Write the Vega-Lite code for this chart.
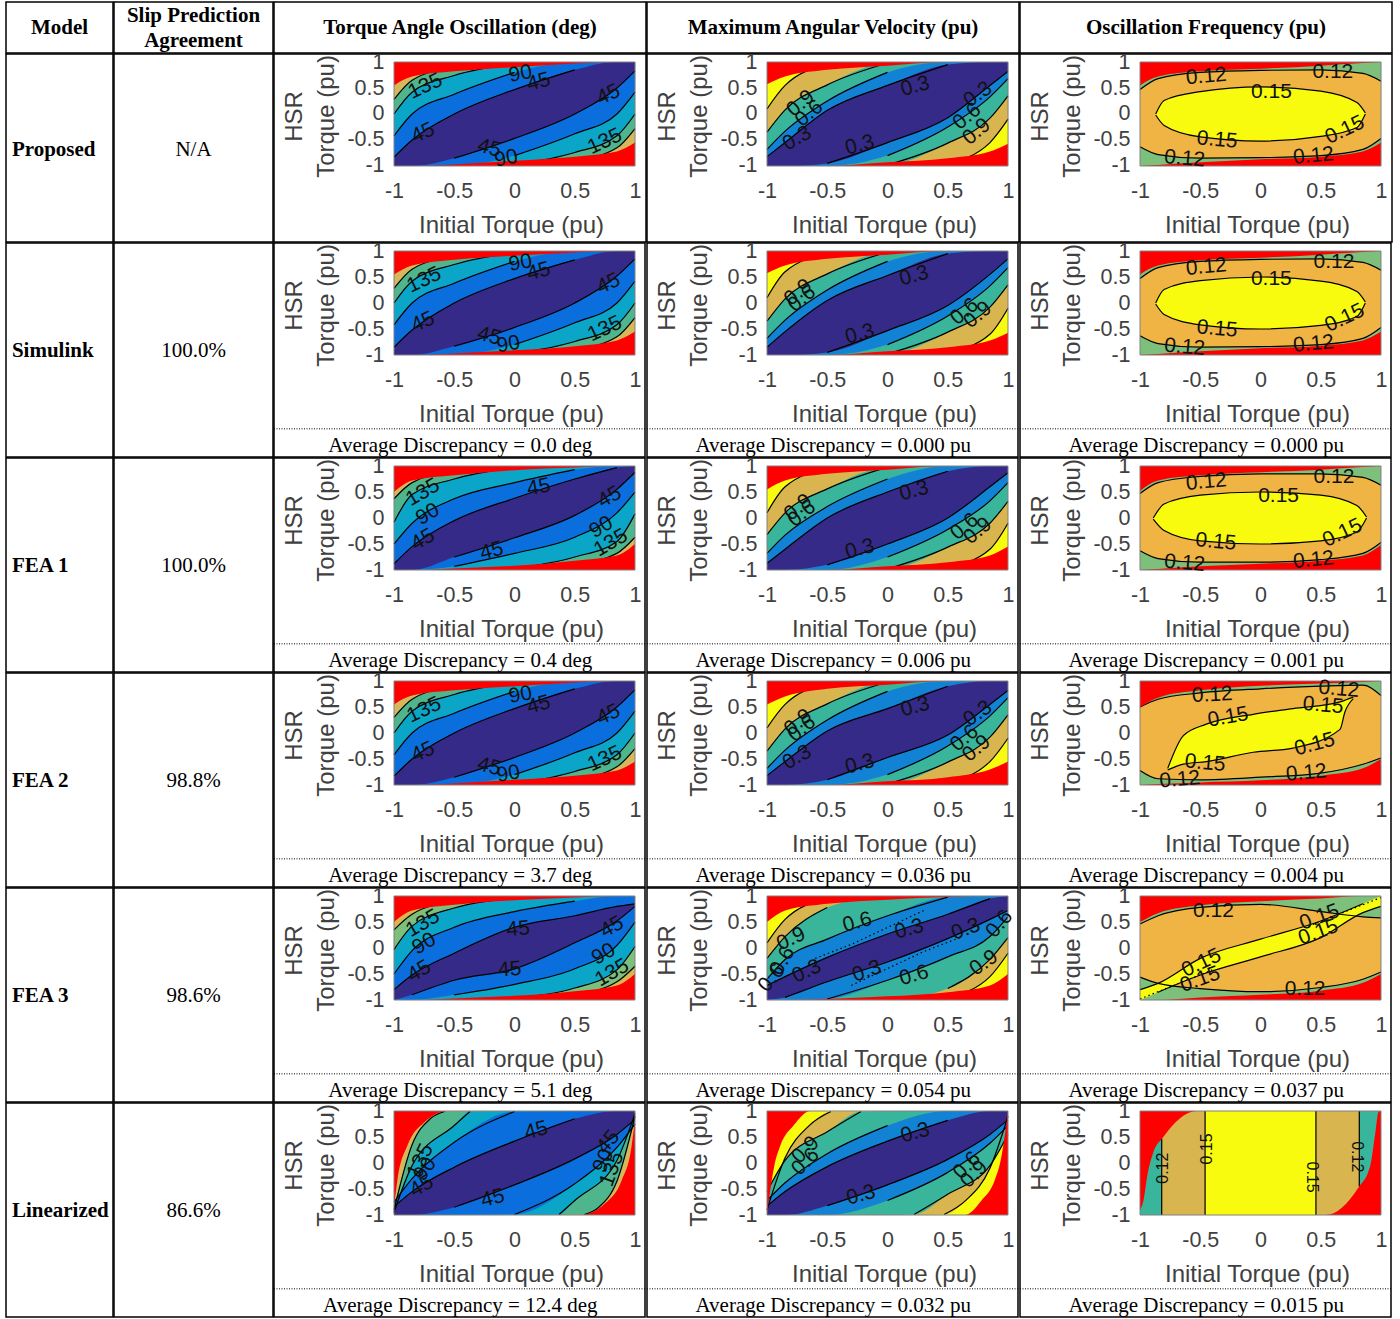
{"$schema":"https://vega.github.io/schema/vega-lite/v6.json","padding":{"left":5,"top":1,"right":0,"bottom":0},"autosize":{"type":"pad"},"background":"white","config":{"view":{"stroke":"#000","strokeWidth":1.5},"text":{"font":"Liberation Serif"}},
"datasets":{"d":[
{"r":1,"c":1,"l":-1,"t":"","u":-1,"v":1},{"r":1,"c":2,"l":-1,"t":"","u":-1,"v":1},{"r":1,"c":3,"l":-1,"t":"","u":-1,"v":1},
{"r":2,"c":1,"l":-1,"x":-0.45,"y":-2.75,"q":-2.42,"u":-1,"v":1,"t":"Average Discrepancy = 0.0 deg"},{"r":2,"c":2,"l":-1,"x":-0.45,"y":-2.75,"q":-2.42,"u":-1,"v":1,"t":"Average Discrepancy = 0.000 pu"},{"r":2,"c":3,"l":-1,"x":-0.45,"y":-2.75,"q":-2.42,"u":-1,"v":1,"t":"Average Discrepancy = 0.000 pu"},
{"r":3,"c":1,"l":-1,"x":-0.45,"y":-2.75,"q":-2.42,"u":-1,"v":1,"t":"Average Discrepancy = 0.4 deg"},{"r":3,"c":2,"l":-1,"x":-0.45,"y":-2.75,"q":-2.42,"u":-1,"v":1,"t":"Average Discrepancy = 0.006 pu"},{"r":3,"c":3,"l":-1,"x":-0.45,"y":-2.75,"q":-2.42,"u":-1,"v":1,"t":"Average Discrepancy = 0.001 pu"},
{"r":4,"c":1,"l":-1,"x":-0.45,"y":-2.75,"q":-2.42,"u":-1,"v":1,"t":"Average Discrepancy = 3.7 deg"},{"r":4,"c":2,"l":-1,"x":-0.45,"y":-2.75,"q":-2.42,"u":-1,"v":1,"t":"Average Discrepancy = 0.036 pu"},{"r":4,"c":3,"l":-1,"x":-0.45,"y":-2.75,"q":-2.42,"u":-1,"v":1,"t":"Average Discrepancy = 0.004 pu"},
{"r":5,"c":1,"l":-1,"x":-0.45,"y":-2.75,"q":-2.42,"u":-1,"v":1,"t":"Average Discrepancy = 5.1 deg"},{"r":5,"c":2,"l":-1,"x":-0.45,"y":-2.75,"q":-2.42,"u":-1,"v":1,"t":"Average Discrepancy = 0.054 pu"},{"r":5,"c":3,"l":-1,"x":-0.45,"y":-2.75,"q":-2.42,"u":-1,"v":1,"t":"Average Discrepancy = 0.037 pu"},
{"r":6,"c":1,"l":-1,"x":-0.45,"y":-2.75,"q":-2.42,"u":-1,"v":1,"t":"Average Discrepancy = 12.4 deg"},{"r":6,"c":2,"l":-1,"x":-0.45,"y":-2.75,"q":-2.42,"u":-1,"v":1,"t":"Average Discrepancy = 0.032 pu"},{"r":6,"c":3,"l":-1,"x":-0.45,"y":-2.75,"q":-2.42,"u":-1,"v":1,"t":"Average Discrepancy = 0.015 pu"},

{"r":1,"c":1,"l":0,"x":-1,"a":-1,"b":0.55},{"r":1,"c":1,"l":0,"x":-0.85,"a":-1,"b":0.72},{"r":1,"c":1,"l":0,"x":-0.5,"a":-0.97,"b":0.82},{"r":1,"c":1,"l":0,"x":0,"a":-0.9,"b":0.9},{"r":1,"c":1,"l":0,"x":0.5,"a":-0.82,"b":0.97},{"r":1,"c":1,"l":0,"x":0.85,"a":-0.72,"b":1},{"r":1,"c":1,"l":0,"x":1,"a":-0.55,"b":1},
{"r":1,"c":1,"l":1,"x":-1,"a":-1,"b":1},{"r":1,"c":1,"l":1,"x":1,"a":-1,"b":1},
{"r":1,"c":1,"l":2,"x":-1,"a":-1,"b":0.28},{"r":1,"c":1,"l":2,"x":-0.85,"a":-1,"b":0.65},{"r":1,"c":1,"l":2,"x":-0.5,"a":-1,"b":0.9},{"r":1,"c":1,"l":2,"x":0,"a":-1,"b":1},{"r":1,"c":1,"l":2,"x":0.5,"a":-0.9,"b":1},{"r":1,"c":1,"l":2,"x":0.85,"a":-0.65,"b":1},{"r":1,"c":1,"l":2,"x":1,"a":-0.28,"b":1},
{"r":1,"c":1,"l":3,"x":-1,"a":-1,"b":0},{"r":1,"c":1,"l":3,"x":-0.85,"a":-1,"b":0.42},{"r":1,"c":1,"l":3,"x":-0.5,"a":-1,"b":0.74},{"r":1,"c":1,"l":3,"x":0,"a":-0.97,"b":0.97},{"r":1,"c":1,"l":3,"x":0.5,"a":-0.74,"b":1},{"r":1,"c":1,"l":3,"x":0.85,"a":-0.42,"b":1},{"r":1,"c":1,"l":3,"x":1,"a":0,"b":1},
{"r":1,"c":1,"l":4,"x":-1,"a":-1,"b":-0.42},{"r":1,"c":1,"l":4,"x":-0.85,"a":-1,"b":0},{"r":1,"c":1,"l":4,"x":-0.5,"a":-1,"b":0.38},{"r":1,"c":1,"l":4,"x":0,"a":-0.8,"b":0.8},{"r":1,"c":1,"l":4,"x":0.5,"a":-0.38,"b":1},{"r":1,"c":1,"l":4,"x":0.85,"a":0,"b":1},{"r":1,"c":1,"l":4,"x":1,"a":0.42,"b":1},
{"r":1,"c":1,"l":5,"x":-1,"a":-1,"b":-0.83},{"r":1,"c":1,"l":5,"x":-0.85,"a":-1,"b":-0.5},{"r":1,"c":1,"l":5,"x":-0.5,"a":-0.85,"b":0},{"r":1,"c":1,"l":5,"x":0,"a":-0.47,"b":0.47},{"r":1,"c":1,"l":5,"x":0.5,"a":0,"b":0.85},{"r":1,"c":1,"l":5,"x":0.85,"a":0.5,"b":1},{"r":1,"c":1,"l":5,"x":1,"a":0.83,"b":1},

{"r":2,"c":1,"l":0,"x":-1,"a":-1,"b":0.55},{"r":2,"c":1,"l":0,"x":-0.85,"a":-1,"b":0.72},{"r":2,"c":1,"l":0,"x":-0.5,"a":-0.97,"b":0.83},{"r":2,"c":1,"l":0,"x":0,"a":-0.91,"b":0.91},{"r":2,"c":1,"l":0,"x":0.5,"a":-0.83,"b":0.97},{"r":2,"c":1,"l":0,"x":0.85,"a":-0.72,"b":1},{"r":2,"c":1,"l":0,"x":1,"a":-0.55,"b":1},
{"r":2,"c":1,"l":1,"x":-1,"a":-1,"b":1},{"r":2,"c":1,"l":1,"x":1,"a":-1,"b":1},
{"r":2,"c":1,"l":2,"x":-1,"a":-1,"b":0.28},{"r":2,"c":1,"l":2,"x":-0.85,"a":-1,"b":0.65},{"r":2,"c":1,"l":2,"x":-0.5,"a":-1,"b":0.9},{"r":2,"c":1,"l":2,"x":0,"a":-1,"b":1},{"r":2,"c":1,"l":2,"x":0.5,"a":-0.9,"b":1},{"r":2,"c":1,"l":2,"x":0.85,"a":-0.65,"b":1},{"r":2,"c":1,"l":2,"x":1,"a":-0.28,"b":1},
{"r":2,"c":1,"l":3,"x":-1,"a":-1,"b":0},{"r":2,"c":1,"l":3,"x":-0.85,"a":-1,"b":0.42},{"r":2,"c":1,"l":3,"x":-0.5,"a":-1,"b":0.74},{"r":2,"c":1,"l":3,"x":0,"a":-0.97,"b":0.97},{"r":2,"c":1,"l":3,"x":0.5,"a":-0.74,"b":1},{"r":2,"c":1,"l":3,"x":0.85,"a":-0.42,"b":1},{"r":2,"c":1,"l":3,"x":1,"a":0,"b":1},
{"r":2,"c":1,"l":4,"x":-1,"a":-1,"b":-0.42},{"r":2,"c":1,"l":4,"x":-0.85,"a":-1,"b":0},{"r":2,"c":1,"l":4,"x":-0.5,"a":-1,"b":0.38},{"r":2,"c":1,"l":4,"x":0,"a":-0.8,"b":0.8},{"r":2,"c":1,"l":4,"x":0.5,"a":-0.38,"b":1},{"r":2,"c":1,"l":4,"x":0.85,"a":0,"b":1},{"r":2,"c":1,"l":4,"x":1,"a":0.42,"b":1},
{"r":2,"c":1,"l":5,"x":-1,"a":-1,"b":-0.85},{"r":2,"c":1,"l":5,"x":-0.85,"a":-1,"b":-0.52},{"r":2,"c":1,"l":5,"x":-0.5,"a":-0.83,"b":0},{"r":2,"c":1,"l":5,"x":0,"a":-0.47,"b":0.47},{"r":2,"c":1,"l":5,"x":0.5,"a":0,"b":0.83},{"r":2,"c":1,"l":5,"x":0.85,"a":0.52,"b":1},{"r":2,"c":1,"l":5,"x":1,"a":0.85,"b":1},

{"r":3,"c":1,"l":0,"x":-1,"a":-1,"b":0.5},{"r":3,"c":1,"l":0,"x":-0.85,"a":-1,"b":0.72},{"r":3,"c":1,"l":0,"x":-0.5,"a":-0.97,"b":0.82},{"r":3,"c":1,"l":0,"x":0,"a":-0.92,"b":0.92},{"r":3,"c":1,"l":0,"x":0.5,"a":-0.82,"b":0.97},{"r":3,"c":1,"l":0,"x":0.85,"a":-0.72,"b":1},{"r":3,"c":1,"l":0,"x":1,"a":-0.5,"b":1},
{"r":3,"c":1,"l":1,"x":-1,"a":-1,"b":1},{"r":3,"c":1,"l":1,"x":1,"a":-1,"b":1},
{"r":3,"c":1,"l":2,"x":-1,"a":-1,"b":0.37},{"r":3,"c":1,"l":2,"x":-0.85,"a":-1,"b":0.68},{"r":3,"c":1,"l":2,"x":-0.5,"a":-1,"b":0.9},{"r":3,"c":1,"l":2,"x":0,"a":-1,"b":1},{"r":3,"c":1,"l":2,"x":0.5,"a":-0.9,"b":1},{"r":3,"c":1,"l":2,"x":0.85,"a":-0.68,"b":1},{"r":3,"c":1,"l":2,"x":1,"a":-0.37,"b":1},
{"r":3,"c":1,"l":3,"x":-1,"a":-1,"b":-0.08},{"r":3,"c":1,"l":3,"x":-0.85,"a":-1,"b":0.45},{"r":3,"c":1,"l":3,"x":-0.5,"a":-1,"b":0.75},{"r":3,"c":1,"l":3,"x":0,"a":-0.97,"b":0.97},{"r":3,"c":1,"l":3,"x":0.5,"a":-0.75,"b":1},{"r":3,"c":1,"l":3,"x":0.85,"a":-0.45,"b":1},{"r":3,"c":1,"l":3,"x":1,"a":0.08,"b":1},
{"r":3,"c":1,"l":4,"x":-1,"a":-1,"b":-0.5},{"r":3,"c":1,"l":4,"x":-0.85,"a":-1,"b":-0.1},{"r":3,"c":1,"l":4,"x":-0.5,"a":-0.93,"b":0.37},{"r":3,"c":1,"l":4,"x":0,"a":-0.68,"b":0.68},{"r":3,"c":1,"l":4,"x":0.5,"a":-0.37,"b":0.93},{"r":3,"c":1,"l":4,"x":0.85,"a":0.1,"b":1},{"r":3,"c":1,"l":4,"x":1,"a":0.5,"b":1},
{"r":3,"c":1,"l":5,"x":-1,"a":-1,"b":-0.88},{"r":3,"c":1,"l":5,"x":-0.85,"a":-1,"b":-0.55},{"r":3,"c":1,"l":5,"x":-0.5,"a":-0.75,"b":-0.05},{"r":3,"c":1,"l":5,"x":0,"a":-0.38,"b":0.38},{"r":3,"c":1,"l":5,"x":0.5,"a":0.05,"b":0.75},{"r":3,"c":1,"l":5,"x":0.85,"a":0.55,"b":0.97},{"r":3,"c":1,"l":5,"x":1,"a":0.88,"b":1},

{"r":4,"c":1,"l":0,"x":-1,"a":-1,"b":0.55},{"r":4,"c":1,"l":0,"x":-0.85,"a":-1,"b":0.72},{"r":4,"c":1,"l":0,"x":-0.5,"a":-0.97,"b":0.82},{"r":4,"c":1,"l":0,"x":0,"a":-0.9,"b":0.9},{"r":4,"c":1,"l":0,"x":0.5,"a":-0.82,"b":0.97},{"r":4,"c":1,"l":0,"x":0.85,"a":-0.72,"b":1},{"r":4,"c":1,"l":0,"x":1,"a":-0.55,"b":1},
{"r":4,"c":1,"l":1,"x":-1,"a":-1,"b":1},{"r":4,"c":1,"l":1,"x":1,"a":-1,"b":1},
{"r":4,"c":1,"l":2,"x":-1,"a":-1,"b":0.3},{"r":4,"c":1,"l":2,"x":-0.85,"a":-1,"b":0.65},{"r":4,"c":1,"l":2,"x":-0.5,"a":-1,"b":0.9},{"r":4,"c":1,"l":2,"x":0,"a":-1,"b":1},{"r":4,"c":1,"l":2,"x":0.5,"a":-0.9,"b":1},{"r":4,"c":1,"l":2,"x":0.85,"a":-0.65,"b":1},{"r":4,"c":1,"l":2,"x":1,"a":-0.3,"b":1},
{"r":4,"c":1,"l":3,"x":-1,"a":-1,"b":0},{"r":4,"c":1,"l":3,"x":-0.85,"a":-1,"b":0.42},{"r":4,"c":1,"l":3,"x":-0.5,"a":-1,"b":0.74},{"r":4,"c":1,"l":3,"x":0,"a":-0.97,"b":0.97},{"r":4,"c":1,"l":3,"x":0.5,"a":-0.74,"b":1},{"r":4,"c":1,"l":3,"x":0.85,"a":-0.42,"b":1},{"r":4,"c":1,"l":3,"x":1,"a":0,"b":1},
{"r":4,"c":1,"l":4,"x":-1,"a":-1,"b":-0.42},{"r":4,"c":1,"l":4,"x":-0.85,"a":-1,"b":0},{"r":4,"c":1,"l":4,"x":-0.5,"a":-1,"b":0.38},{"r":4,"c":1,"l":4,"x":0,"a":-0.8,"b":0.8},{"r":4,"c":1,"l":4,"x":0.5,"a":-0.38,"b":1},{"r":4,"c":1,"l":4,"x":0.85,"a":0,"b":1},{"r":4,"c":1,"l":4,"x":1,"a":0.42,"b":1},
{"r":4,"c":1,"l":5,"x":-1,"a":-1,"b":-0.83},{"r":4,"c":1,"l":5,"x":-0.85,"a":-1,"b":-0.5},{"r":4,"c":1,"l":5,"x":-0.5,"a":-0.85,"b":0},{"r":4,"c":1,"l":5,"x":0,"a":-0.47,"b":0.47},{"r":4,"c":1,"l":5,"x":0.5,"a":0,"b":0.85},{"r":4,"c":1,"l":5,"x":0.85,"a":0.5,"b":1},{"r":4,"c":1,"l":5,"x":1,"a":0.83,"b":1},

{"r":5,"c":1,"l":0,"x":-1,"a":-1,"b":0.5},{"r":5,"c":1,"l":0,"x":-0.85,"a":-1,"b":0.72},{"r":5,"c":1,"l":0,"x":-0.5,"a":-0.97,"b":0.83},{"r":5,"c":1,"l":0,"x":0,"a":-0.92,"b":0.92},{"r":5,"c":1,"l":0,"x":0.5,"a":-0.83,"b":0.97},{"r":5,"c":1,"l":0,"x":0.85,"a":-0.72,"b":1},{"r":5,"c":1,"l":0,"x":1,"a":-0.5,"b":1},
{"r":5,"c":1,"l":7,"x":-1,"a":-1,"b":1},{"r":5,"c":1,"l":7,"x":1,"a":-1,"b":1},
{"r":5,"c":1,"l":10,"x":-1,"a":-1,"b":0.35},{"r":5,"c":1,"l":10,"x":-0.85,"a":-1,"b":0.65},{"r":5,"c":1,"l":10,"x":-0.5,"a":-1,"b":0.9},{"r":5,"c":1,"l":10,"x":0,"a":-1,"b":1},{"r":5,"c":1,"l":10,"x":0.5,"a":-0.9,"b":1},{"r":5,"c":1,"l":10,"x":0.85,"a":-0.65,"b":1},{"r":5,"c":1,"l":10,"x":1,"a":-0.35,"b":1},
{"r":5,"c":1,"l":3,"x":-1,"a":-1,"b":-0.03},{"r":5,"c":1,"l":3,"x":-0.85,"a":-1,"b":0.42},{"r":5,"c":1,"l":3,"x":-0.5,"a":-1,"b":0.77},{"r":5,"c":1,"l":3,"x":0,"a":-0.95,"b":0.95},{"r":5,"c":1,"l":3,"x":0.5,"a":-0.77,"b":1},{"r":5,"c":1,"l":3,"x":0.85,"a":-0.42,"b":1},{"r":5,"c":1,"l":3,"x":1,"a":0.03,"b":1},
{"r":5,"c":1,"l":4,"x":-1,"a":-1,"b":-0.5},{"r":5,"c":1,"l":4,"x":-0.85,"a":-1,"b":-0.05},{"r":5,"c":1,"l":4,"x":-0.5,"a":-0.9,"b":0.4},{"r":5,"c":1,"l":4,"x":0,"a":-0.7,"b":0.7},{"r":5,"c":1,"l":4,"x":0.5,"a":-0.4,"b":0.9},{"r":5,"c":1,"l":4,"x":0.85,"a":0.05,"b":1},{"r":5,"c":1,"l":4,"x":1,"a":0.5,"b":1},
{"r":5,"c":1,"l":5,"x":-1,"a":-1,"b":-0.8},{"r":5,"c":1,"l":5,"x":-0.85,"a":-0.9,"b":-0.52},{"r":5,"c":1,"l":5,"x":-0.5,"a":-0.62,"b":-0.1},{"r":5,"c":1,"l":5,"x":0,"a":-0.4,"b":0.4},{"r":5,"c":1,"l":5,"x":0.5,"a":0.1,"b":0.62},{"r":5,"c":1,"l":5,"x":0.85,"a":0.52,"b":0.8},{"r":5,"c":1,"l":5,"x":1,"a":0.8,"b":0.85},

{"r":6,"c":1,"l":0,"x":-1,"b":-0.85},{"r":6,"c":1,"l":0,"x":-0.97,"b":-0.3},{"r":6,"c":1,"l":0,"x":-0.89,"b":0.33},{"r":6,"c":1,"l":0,"x":-0.75,"b":0.78},{"r":6,"c":1,"l":0,"x":-0.55,"b":1},{"r":6,"c":1,"l":0,"x":1,"b":1},
{"r":6,"c":1,"l":0,"x":-1,"a":-1},{"r":6,"c":1,"l":0,"x":0.55,"a":-1},{"r":6,"c":1,"l":0,"x":0.75,"a":-0.78},{"r":6,"c":1,"l":0,"x":0.89,"a":-0.33},{"r":6,"c":1,"l":0,"x":0.97,"a":0.3},{"r":6,"c":1,"l":0,"x":1,"a":0.85},
{"r":6,"c":1,"l":1,"x":-1,"a":-1,"b":1},{"r":6,"c":1,"l":1,"x":1,"a":-1,"b":1},
{"r":6,"c":1,"l":2,"x":-1,"a":-1,"b":-0.9},{"r":6,"c":1,"l":2,"x":-0.85,"a":-1,"b":0.35},{"r":6,"c":1,"l":2,"x":-0.7,"a":-1,"b":0.85},{"r":6,"c":1,"l":2,"x":-0.58,"a":-1,"b":0.99},{"r":6,"c":1,"l":2,"x":0,"a":-1,"b":1},{"r":6,"c":1,"l":2,"x":0.58,"a":-0.99,"b":1},{"r":6,"c":1,"l":2,"x":0.7,"a":-0.85,"b":1},{"r":6,"c":1,"l":2,"x":0.85,"a":-0.35,"b":1},{"r":6,"c":1,"l":2,"x":1,"a":0.9,"b":1},
{"r":6,"c":1,"l":3,"x":-1,"a":-1,"b":-0.95},{"r":6,"c":1,"l":3,"x":-0.85,"a":-1,"b":-0.05},{"r":6,"c":1,"l":3,"x":-0.5,"a":-1,"b":0.72},{"r":6,"c":1,"l":3,"x":-0.37,"a":-1,"b":0.99},{"r":6,"c":1,"l":3,"x":0,"a":-1,"b":1},{"r":6,"c":1,"l":3,"x":0.37,"a":-0.99,"b":1},{"r":6,"c":1,"l":3,"x":0.5,"a":-0.72,"b":1},{"r":6,"c":1,"l":3,"x":0.85,"a":0.05,"b":1},{"r":6,"c":1,"l":3,"x":1,"a":0.95,"b":1},
{"r":6,"c":1,"l":4,"x":-1,"a":-1,"b":-0.75},{"r":6,"c":1,"l":4,"x":-0.85,"a":-1,"b":-0.3},{"r":6,"c":1,"l":4,"x":-0.5,"a":-1,"b":0.4},{"r":6,"c":1,"l":4,"x":0,"a":-0.99,"b":0.99},{"r":6,"c":1,"l":4,"x":0.5,"a":-0.4,"b":1},{"r":6,"c":1,"l":4,"x":0.85,"a":0.3,"b":1},{"r":6,"c":1,"l":4,"x":1,"a":0.75,"b":1},
{"r":6,"c":1,"l":5,"x":-1,"a":-1,"b":-0.84},{"r":6,"c":1,"l":5,"x":-0.85,"a":-1,"b":-0.55},{"r":6,"c":1,"l":5,"x":-0.5,"a":-0.85,"b":-0.08},{"r":6,"c":1,"l":5,"x":0,"a":-0.42,"b":0.42},{"r":6,"c":1,"l":5,"x":0.5,"a":0.08,"b":0.85},{"r":6,"c":1,"l":5,"x":0.85,"a":0.55,"b":1},{"r":6,"c":1,"l":5,"x":1,"a":0.84,"b":1},

{"r":1,"c":2,"l":0,"x":-1,"a":-1,"b":0.57},{"r":1,"c":2,"l":0,"x":-0.85,"a":-1,"b":0.72},{"r":1,"c":2,"l":0,"x":-0.5,"a":-1,"b":0.85},{"r":1,"c":2,"l":0,"x":0,"a":-0.93,"b":0.93},{"r":1,"c":2,"l":0,"x":0.5,"a":-0.85,"b":1},{"r":1,"c":2,"l":0,"x":0.85,"a":-0.72,"b":1},{"r":1,"c":2,"l":0,"x":1,"a":-0.57,"b":1},
{"r":1,"c":2,"l":6,"x":-1,"a":-1,"b":1},{"r":1,"c":2,"l":6,"x":1,"a":-1,"b":1},
{"r":1,"c":2,"l":7,"x":-1,"a":-1,"b":0.1},{"r":1,"c":2,"l":7,"x":-0.85,"a":-1,"b":0.55},{"r":1,"c":2,"l":7,"x":-0.5,"a":-1,"b":0.95},{"r":1,"c":2,"l":7,"x":0,"a":-1,"b":1},{"r":1,"c":2,"l":7,"x":0.5,"a":-0.95,"b":1},{"r":1,"c":2,"l":7,"x":0.85,"a":-0.55,"b":1},{"r":1,"c":2,"l":7,"x":1,"a":-0.1,"b":1},
{"r":1,"c":2,"l":8,"x":-1,"a":-1,"b":-0.35},{"r":1,"c":2,"l":8,"x":-0.85,"a":-1,"b":0.08},{"r":1,"c":2,"l":8,"x":-0.5,"a":-1,"b":0.56},{"r":1,"c":2,"l":8,"x":0,"a":-0.98,"b":0.98},{"r":1,"c":2,"l":8,"x":0.5,"a":-0.56,"b":1},{"r":1,"c":2,"l":8,"x":0.85,"a":-0.08,"b":1},{"r":1,"c":2,"l":8,"x":1,"a":0.35,"b":1},
{"r":1,"c":2,"l":9,"x":-1,"a":-1,"b":-0.68},{"r":1,"c":2,"l":9,"x":-0.85,"a":-1,"b":-0.33},{"r":1,"c":2,"l":9,"x":-0.5,"a":-1,"b":0.25},{"r":1,"c":2,"l":9,"x":0,"a":-0.8,"b":0.8},{"r":1,"c":2,"l":9,"x":0.5,"a":-0.25,"b":1},{"r":1,"c":2,"l":9,"x":0.85,"a":0.33,"b":1},{"r":1,"c":2,"l":9,"x":1,"a":0.68,"b":1},
{"r":1,"c":2,"l":5,"x":-1,"a":-1,"b":-0.82},{"r":1,"c":2,"l":5,"x":-0.85,"a":-1,"b":-0.55},{"r":1,"c":2,"l":5,"x":-0.5,"a":-0.95,"b":0.07},{"r":1,"c":2,"l":5,"x":0,"a":-0.55,"b":0.55},{"r":1,"c":2,"l":5,"x":0.5,"a":-0.07,"b":0.95},{"r":1,"c":2,"l":5,"x":0.85,"a":0.55,"b":1},{"r":1,"c":2,"l":5,"x":1,"a":0.82,"b":1},

{"r":2,"c":2,"l":0,"x":-1,"a":-1,"b":0.57},{"r":2,"c":2,"l":0,"x":-0.85,"a":-1,"b":0.72},{"r":2,"c":2,"l":0,"x":-0.5,"a":-1,"b":0.85},{"r":2,"c":2,"l":0,"x":0,"a":-0.93,"b":0.93},{"r":2,"c":2,"l":0,"x":0.5,"a":-0.85,"b":1},{"r":2,"c":2,"l":0,"x":0.85,"a":-0.72,"b":1},{"r":2,"c":2,"l":0,"x":1,"a":-0.57,"b":1},
{"r":2,"c":2,"l":6,"x":-1,"a":-1,"b":1},{"r":2,"c":2,"l":6,"x":1,"a":-1,"b":1},
{"r":2,"c":2,"l":7,"x":-1,"a":-1,"b":0.1},{"r":2,"c":2,"l":7,"x":-0.85,"a":-1,"b":0.6},{"r":2,"c":2,"l":7,"x":-0.5,"a":-1,"b":0.95},{"r":2,"c":2,"l":7,"x":0,"a":-1,"b":1},{"r":2,"c":2,"l":7,"x":0.5,"a":-0.95,"b":1},{"r":2,"c":2,"l":7,"x":0.85,"a":-0.6,"b":1},{"r":2,"c":2,"l":7,"x":1,"a":-0.1,"b":1},
{"r":2,"c":2,"l":8,"x":-1,"a":-1,"b":-0.35},{"r":2,"c":2,"l":8,"x":-0.85,"a":-1,"b":0.08},{"r":2,"c":2,"l":8,"x":-0.5,"a":-1,"b":0.56},{"r":2,"c":2,"l":8,"x":0,"a":-0.98,"b":0.98},{"r":2,"c":2,"l":8,"x":0.5,"a":-0.56,"b":1},{"r":2,"c":2,"l":8,"x":0.85,"a":-0.08,"b":1},{"r":2,"c":2,"l":8,"x":1,"a":0.35,"b":1},
{"r":2,"c":2,"l":9,"x":-1,"a":-1,"b":-0.68},{"r":2,"c":2,"l":9,"x":-0.85,"a":-1,"b":-0.33},{"r":2,"c":2,"l":9,"x":-0.5,"a":-1,"b":0.25},{"r":2,"c":2,"l":9,"x":0,"a":-0.8,"b":0.8},{"r":2,"c":2,"l":9,"x":0.5,"a":-0.25,"b":1},{"r":2,"c":2,"l":9,"x":0.85,"a":0.33,"b":1},{"r":2,"c":2,"l":9,"x":1,"a":0.68,"b":1},
{"r":2,"c":2,"l":5,"x":-1,"a":-1,"b":-0.85},{"r":2,"c":2,"l":5,"x":-0.85,"a":-1,"b":-0.55},{"r":2,"c":2,"l":5,"x":-0.5,"a":-0.95,"b":0.05},{"r":2,"c":2,"l":5,"x":0,"a":-0.53,"b":0.53},{"r":2,"c":2,"l":5,"x":0.5,"a":-0.05,"b":0.95},{"r":2,"c":2,"l":5,"x":0.85,"a":0.55,"b":1},{"r":2,"c":2,"l":5,"x":1,"a":0.85,"b":1},

{"r":3,"c":2,"l":0,"x":-1,"a":-1,"b":0.55},{"r":3,"c":2,"l":0,"x":-0.85,"a":-1,"b":0.72},{"r":3,"c":2,"l":0,"x":-0.5,"a":-1,"b":0.85},{"r":3,"c":2,"l":0,"x":0,"a":-0.93,"b":0.93},{"r":3,"c":2,"l":0,"x":0.5,"a":-0.85,"b":1},{"r":3,"c":2,"l":0,"x":0.85,"a":-0.72,"b":1},{"r":3,"c":2,"l":0,"x":1,"a":-0.55,"b":1},
{"r":3,"c":2,"l":6,"x":-1,"a":-1,"b":1},{"r":3,"c":2,"l":6,"x":1,"a":-1,"b":1},
{"r":3,"c":2,"l":7,"x":-1,"a":-1,"b":0.1},{"r":3,"c":2,"l":7,"x":-0.85,"a":-1,"b":0.6},{"r":3,"c":2,"l":7,"x":-0.5,"a":-1,"b":0.95},{"r":3,"c":2,"l":7,"x":0,"a":-1,"b":1},{"r":3,"c":2,"l":7,"x":0.5,"a":-0.95,"b":1},{"r":3,"c":2,"l":7,"x":0.85,"a":-0.6,"b":1},{"r":3,"c":2,"l":7,"x":1,"a":-0.1,"b":1},
{"r":3,"c":2,"l":8,"x":-1,"a":-1,"b":-0.32},{"r":3,"c":2,"l":8,"x":-0.85,"a":-1,"b":0.1},{"r":3,"c":2,"l":8,"x":-0.5,"a":-1,"b":0.56},{"r":3,"c":2,"l":8,"x":0,"a":-0.98,"b":0.98},{"r":3,"c":2,"l":8,"x":0.5,"a":-0.56,"b":1},{"r":3,"c":2,"l":8,"x":0.85,"a":-0.1,"b":1},{"r":3,"c":2,"l":8,"x":1,"a":0.32,"b":1},
{"r":3,"c":2,"l":9,"x":-1,"a":-1,"b":-0.68},{"r":3,"c":2,"l":9,"x":-0.85,"a":-1,"b":-0.33},{"r":3,"c":2,"l":9,"x":-0.5,"a":-1,"b":0.22},{"r":3,"c":2,"l":9,"x":0,"a":-0.75,"b":0.75},{"r":3,"c":2,"l":9,"x":0.5,"a":-0.22,"b":1},{"r":3,"c":2,"l":9,"x":0.85,"a":0.33,"b":1},{"r":3,"c":2,"l":9,"x":1,"a":0.68,"b":1},
{"r":3,"c":2,"l":5,"x":-1,"a":-1,"b":-0.87},{"r":3,"c":2,"l":5,"x":-0.85,"a":-1,"b":-0.6},{"r":3,"c":2,"l":5,"x":-0.5,"a":-0.9,"b":0},{"r":3,"c":2,"l":5,"x":0,"a":-0.5,"b":0.5},{"r":3,"c":2,"l":5,"x":0.5,"a":0,"b":0.9},{"r":3,"c":2,"l":5,"x":0.85,"a":0.6,"b":1},{"r":3,"c":2,"l":5,"x":1,"a":0.87,"b":1},

{"r":4,"c":2,"l":0,"x":-1,"a":-1,"b":0.55},{"r":4,"c":2,"l":0,"x":-0.85,"a":-1,"b":0.7},{"r":4,"c":2,"l":0,"x":-0.5,"a":-1,"b":0.85},{"r":4,"c":2,"l":0,"x":0,"a":-0.93,"b":0.93},{"r":4,"c":2,"l":0,"x":0.5,"a":-0.85,"b":1},{"r":4,"c":2,"l":0,"x":0.85,"a":-0.7,"b":1},{"r":4,"c":2,"l":0,"x":1,"a":-0.55,"b":1},
{"r":4,"c":2,"l":6,"x":-1,"a":-1,"b":1},{"r":4,"c":2,"l":6,"x":1,"a":-1,"b":1},
{"r":4,"c":2,"l":7,"x":-1,"a":-1,"b":0.1},{"r":4,"c":2,"l":7,"x":-0.85,"a":-1,"b":0.55},{"r":4,"c":2,"l":7,"x":-0.5,"a":-1,"b":0.95},{"r":4,"c":2,"l":7,"x":0,"a":-1,"b":1},{"r":4,"c":2,"l":7,"x":0.5,"a":-0.95,"b":1},{"r":4,"c":2,"l":7,"x":0.85,"a":-0.55,"b":1},{"r":4,"c":2,"l":7,"x":1,"a":-0.1,"b":1},
{"r":4,"c":2,"l":8,"x":-1,"a":-1,"b":-0.35},{"r":4,"c":2,"l":8,"x":-0.85,"a":-1,"b":0.08},{"r":4,"c":2,"l":8,"x":-0.5,"a":-1,"b":0.56},{"r":4,"c":2,"l":8,"x":0,"a":-0.98,"b":0.98},{"r":4,"c":2,"l":8,"x":0.5,"a":-0.56,"b":1},{"r":4,"c":2,"l":8,"x":0.85,"a":-0.08,"b":1},{"r":4,"c":2,"l":8,"x":1,"a":0.35,"b":1},
{"r":4,"c":2,"l":9,"x":-1,"a":-1,"b":-0.68},{"r":4,"c":2,"l":9,"x":-0.85,"a":-1,"b":-0.33},{"r":4,"c":2,"l":9,"x":-0.5,"a":-1,"b":0.25},{"r":4,"c":2,"l":9,"x":0,"a":-0.8,"b":0.8},{"r":4,"c":2,"l":9,"x":0.5,"a":-0.25,"b":1},{"r":4,"c":2,"l":9,"x":0.85,"a":0.33,"b":1},{"r":4,"c":2,"l":9,"x":1,"a":0.68,"b":1},
{"r":4,"c":2,"l":5,"x":-1,"a":-1,"b":-0.82},{"r":4,"c":2,"l":5,"x":-0.85,"a":-1,"b":-0.55},{"r":4,"c":2,"l":5,"x":-0.5,"a":-0.9,"b":0.04},{"r":4,"c":2,"l":5,"x":0,"a":-0.47,"b":0.47},{"r":4,"c":2,"l":5,"x":0.5,"a":-0.04,"b":0.9},{"r":4,"c":2,"l":5,"x":0.85,"a":0.55,"b":1},{"r":4,"c":2,"l":5,"x":1,"a":0.82,"b":1},

{"r":5,"c":2,"l":0,"x":-1,"a":-1,"b":0.5},{"r":5,"c":2,"l":0,"x":-0.85,"a":-1,"b":0.72},{"r":5,"c":2,"l":0,"x":-0.5,"a":-0.98,"b":0.85},{"r":5,"c":2,"l":0,"x":0,"a":-0.93,"b":0.93},{"r":5,"c":2,"l":0,"x":0.5,"a":-0.85,"b":0.98},{"r":5,"c":2,"l":0,"x":0.85,"a":-0.72,"b":1},{"r":5,"c":2,"l":0,"x":1,"a":-0.5,"b":1},
{"r":5,"c":2,"l":6,"x":-1,"a":-1,"b":1},{"r":5,"c":2,"l":6,"x":1,"a":-1,"b":1},
{"r":5,"c":2,"l":7,"x":-1,"a":-1,"b":0.1},{"r":5,"c":2,"l":7,"x":-0.85,"a":-1,"b":0.55},{"r":5,"c":2,"l":7,"x":-0.5,"a":-1,"b":0.95},{"r":5,"c":2,"l":7,"x":0,"a":-1,"b":1},{"r":5,"c":2,"l":7,"x":0.5,"a":-0.95,"b":1},{"r":5,"c":2,"l":7,"x":0.85,"a":-0.55,"b":1},{"r":5,"c":2,"l":7,"x":1,"a":-0.1,"b":1},
{"r":5,"c":2,"l":8,"x":-1,"a":-1,"b":-0.2},{"r":5,"c":2,"l":8,"x":-0.85,"a":-1,"b":0.22},{"r":5,"c":2,"l":8,"x":-0.5,"a":-1,"b":0.78},{"r":5,"c":2,"l":8,"x":0,"a":-1,"b":1},{"r":5,"c":2,"l":8,"x":0.5,"a":-0.78,"b":1},{"r":5,"c":2,"l":8,"x":0.85,"a":-0.22,"b":1},{"r":5,"c":2,"l":8,"x":1,"a":0.2,"b":1},
{"r":5,"c":2,"l":9,"x":-1,"a":-1,"b":-0.6},{"r":5,"c":2,"l":9,"x":-0.85,"a":-1,"b":-0.22},{"r":5,"c":2,"l":9,"x":-0.5,"a":-0.98,"b":0.17},{"r":5,"c":2,"l":9,"x":0,"a":-0.62,"b":0.62},{"r":5,"c":2,"l":9,"x":0.5,"a":-0.17,"b":0.98},{"r":5,"c":2,"l":9,"x":0.85,"a":0.22,"b":1},{"r":5,"c":2,"l":9,"x":1,"a":0.6,"b":1},
{"r":5,"c":2,"l":5,"x":-1,"a":-1,"b":-0.72},{"r":5,"c":2,"l":5,"x":-0.85,"a":-0.95,"b":-0.55},{"r":5,"c":2,"l":5,"x":-0.5,"a":-0.65,"b":-0.18},{"r":5,"c":2,"l":5,"x":0,"a":-0.27,"b":0.27},{"r":5,"c":2,"l":5,"x":0.5,"a":0.18,"b":0.65},{"r":5,"c":2,"l":5,"x":0.85,"a":0.55,"b":0.95},{"r":5,"c":2,"l":5,"x":1,"a":0.72,"b":1},
{"r":5,"c":2,"l":-4,"s":1,"x":-0.6,"y":-0.2},{"r":5,"c":2,"l":-4,"s":1,"x":-0.3,"y":0.07},{"r":5,"c":2,"l":-4,"s":1,"x":0.3,"y":0.72},
{"r":5,"c":2,"l":-4,"s":2,"x":-0.3,"y":-0.72},{"r":5,"c":2,"l":-4,"s":2,"x":0.3,"y":-0.07},{"r":5,"c":2,"l":-4,"s":2,"x":0.6,"y":0.2},

{"r":6,"c":2,"l":0,"x":-1,"b":-0.98},{"r":6,"c":2,"l":0,"x":-0.94,"b":-0.06},{"r":6,"c":2,"l":0,"x":-0.89,"b":0.33},{"r":6,"c":2,"l":0,"x":-0.78,"b":0.72},{"r":6,"c":2,"l":0,"x":-0.64,"b":1},{"r":6,"c":2,"l":0,"x":1,"b":1},
{"r":6,"c":2,"l":0,"x":-1,"a":-1},{"r":6,"c":2,"l":0,"x":0.64,"a":-1},{"r":6,"c":2,"l":0,"x":0.78,"a":-0.72},{"r":6,"c":2,"l":0,"x":0.89,"a":-0.33},{"r":6,"c":2,"l":0,"x":0.94,"a":0.06},{"r":6,"c":2,"l":0,"x":1,"a":0.98},
{"r":6,"c":2,"l":6,"x":-1,"a":-1,"b":1},{"r":6,"c":2,"l":6,"x":1,"a":-1,"b":1},
{"r":6,"c":2,"l":7,"x":-1,"a":-1,"b":-0.9},{"r":6,"c":2,"l":7,"x":-0.85,"a":-1,"b":0.1},{"r":6,"c":2,"l":7,"x":-0.65,"a":-1,"b":0.72},{"r":6,"c":2,"l":7,"x":-0.47,"a":-1,"b":0.99},{"r":6,"c":2,"l":7,"x":0,"a":-1,"b":1},{"r":6,"c":2,"l":7,"x":0.47,"a":-0.99,"b":1},{"r":6,"c":2,"l":7,"x":0.65,"a":-0.72,"b":1},{"r":6,"c":2,"l":7,"x":0.85,"a":-0.1,"b":1},{"r":6,"c":2,"l":7,"x":1,"a":0.9,"b":1},
{"r":6,"c":2,"l":8,"x":-1,"a":-1,"b":-0.55},{"r":6,"c":2,"l":8,"x":-0.85,"a":-1,"b":0.05},{"r":6,"c":2,"l":8,"x":-0.5,"a":-1,"b":0.6},{"r":6,"c":2,"l":8,"x":-0.22,"a":-1,"b":0.99},{"r":6,"c":2,"l":8,"x":0,"a":-1,"b":1},{"r":6,"c":2,"l":8,"x":0.22,"a":-0.99,"b":1},{"r":6,"c":2,"l":8,"x":0.5,"a":-0.6,"b":1},{"r":6,"c":2,"l":8,"x":0.85,"a":-0.05,"b":1},{"r":6,"c":2,"l":8,"x":1,"a":0.55,"b":1},
{"r":6,"c":2,"l":9,"x":-1,"a":-1,"b":-0.72},{"r":6,"c":2,"l":9,"x":-0.85,"a":-1,"b":-0.38},{"r":6,"c":2,"l":9,"x":-0.5,"a":-1,"b":0.18},{"r":6,"c":2,"l":9,"x":0,"a":-0.72,"b":0.72},{"r":6,"c":2,"l":9,"x":0.5,"a":-0.18,"b":1},{"r":6,"c":2,"l":9,"x":0.85,"a":0.38,"b":1},{"r":6,"c":2,"l":9,"x":1,"a":0.72,"b":1},
{"r":6,"c":2,"l":5,"x":-1,"a":-1,"b":-0.83},{"r":6,"c":2,"l":5,"x":-0.85,"a":-1,"b":-0.55},{"r":6,"c":2,"l":5,"x":-0.5,"a":-0.82,"b":-0.07},{"r":6,"c":2,"l":5,"x":0,"a":-0.42,"b":0.42},{"r":6,"c":2,"l":5,"x":0.5,"a":0.07,"b":0.82},{"r":6,"c":2,"l":5,"x":0.85,"a":0.55,"b":1},{"r":6,"c":2,"l":5,"x":1,"a":0.83,"b":1},

{"r":1,"c":3,"l":0,"x":-1,"a":-1,"b":0.55},{"r":1,"c":3,"l":0,"x":-0.85,"a":-0.98,"b":0.72},{"r":1,"c":3,"l":0,"x":-0.5,"a":-0.93,"b":0.82},{"r":1,"c":3,"l":0,"x":0,"a":-0.87,"b":0.87},{"r":1,"c":3,"l":0,"x":0.5,"a":-0.82,"b":0.93},{"r":1,"c":3,"l":0,"x":0.85,"a":-0.72,"b":0.98},{"r":1,"c":3,"l":0,"x":1,"a":-0.55,"b":1},
{"r":1,"c":3,"l":10,"x":-1,"a":-1,"b":1},{"r":1,"c":3,"l":10,"x":1,"a":-1,"b":1},
{"r":1,"c":3,"l":11,"x":-1,"a":-0.63,"b":0.47},{"r":1,"c":3,"l":11,"x":-0.85,"a":-0.78,"b":0.68},{"r":1,"c":3,"l":11,"x":-0.5,"a":-0.85,"b":0.8},{"r":1,"c":3,"l":11,"x":0,"a":-0.84,"b":0.84},{"r":1,"c":3,"l":11,"x":0.5,"a":-0.8,"b":0.85},{"r":1,"c":3,"l":11,"x":0.85,"a":-0.68,"b":0.78},{"r":1,"c":3,"l":11,"x":1,"a":-0.47,"b":0.63},
{"r":1,"c":3,"l":6,"x":-0.87,"a":-0.02,"b":0},{"r":1,"c":3,"l":6,"x":-0.8,"a":-0.22,"b":0.26},{"r":1,"c":3,"l":6,"x":-0.5,"a":-0.44,"b":0.43},{"r":1,"c":3,"l":6,"x":0,"a":-0.52,"b":0.52},{"r":1,"c":3,"l":6,"x":0.5,"a":-0.43,"b":0.44},{"r":1,"c":3,"l":6,"x":0.8,"a":-0.26,"b":0.22},{"r":1,"c":3,"l":6,"x":0.87,"a":0,"b":0.02},

{"r":2,"c":3,"l":0,"x":-1,"a":-1,"b":0.55},{"r":2,"c":3,"l":0,"x":-0.85,"a":-0.98,"b":0.72},{"r":2,"c":3,"l":0,"x":-0.5,"a":-0.93,"b":0.82},{"r":2,"c":3,"l":0,"x":0,"a":-0.87,"b":0.87},{"r":2,"c":3,"l":0,"x":0.5,"a":-0.82,"b":0.93},{"r":2,"c":3,"l":0,"x":0.85,"a":-0.72,"b":0.98},{"r":2,"c":3,"l":0,"x":1,"a":-0.55,"b":1},
{"r":2,"c":3,"l":10,"x":-1,"a":-1,"b":1},{"r":2,"c":3,"l":10,"x":1,"a":-1,"b":1},
{"r":2,"c":3,"l":11,"x":-1,"a":-0.63,"b":0.47},{"r":2,"c":3,"l":11,"x":-0.85,"a":-0.78,"b":0.68},{"r":2,"c":3,"l":11,"x":-0.5,"a":-0.85,"b":0.8},{"r":2,"c":3,"l":11,"x":0,"a":-0.84,"b":0.84},{"r":2,"c":3,"l":11,"x":0.5,"a":-0.8,"b":0.85},{"r":2,"c":3,"l":11,"x":0.85,"a":-0.68,"b":0.78},{"r":2,"c":3,"l":11,"x":1,"a":-0.47,"b":0.63},
{"r":2,"c":3,"l":6,"x":-0.87,"a":-0.02,"b":0},{"r":2,"c":3,"l":6,"x":-0.8,"a":-0.22,"b":0.26},{"r":2,"c":3,"l":6,"x":-0.5,"a":-0.42,"b":0.43},{"r":2,"c":3,"l":6,"x":0,"a":-0.5,"b":0.5},{"r":2,"c":3,"l":6,"x":0.5,"a":-0.43,"b":0.42},{"r":2,"c":3,"l":6,"x":0.8,"a":-0.26,"b":0.22},{"r":2,"c":3,"l":6,"x":0.87,"a":0,"b":0.02},

{"r":3,"c":3,"l":0,"x":-1,"a":-1,"b":0.52},{"r":3,"c":3,"l":0,"x":-0.85,"a":-0.98,"b":0.72},{"r":3,"c":3,"l":0,"x":-0.5,"a":-0.93,"b":0.82},{"r":3,"c":3,"l":0,"x":0,"a":-0.88,"b":0.88},{"r":3,"c":3,"l":0,"x":0.5,"a":-0.82,"b":0.93},{"r":3,"c":3,"l":0,"x":0.85,"a":-0.72,"b":0.98},{"r":3,"c":3,"l":0,"x":1,"a":-0.52,"b":1},
{"r":3,"c":3,"l":10,"x":-1,"a":-1,"b":1},{"r":3,"c":3,"l":10,"x":1,"a":-1,"b":1},
{"r":3,"c":3,"l":11,"x":-1,"a":-0.63,"b":0.47},{"r":3,"c":3,"l":11,"x":-0.85,"a":-0.78,"b":0.68},{"r":3,"c":3,"l":11,"x":-0.5,"a":-0.85,"b":0.8},{"r":3,"c":3,"l":11,"x":0,"a":-0.85,"b":0.85},{"r":3,"c":3,"l":11,"x":0.5,"a":-0.8,"b":0.85},{"r":3,"c":3,"l":11,"x":0.85,"a":-0.68,"b":0.78},{"r":3,"c":3,"l":11,"x":1,"a":-0.47,"b":0.63},
{"r":3,"c":3,"l":6,"x":-0.89,"a":-0.02,"b":0},{"r":3,"c":3,"l":6,"x":-0.8,"a":-0.24,"b":0.27},{"r":3,"c":3,"l":6,"x":-0.5,"a":-0.44,"b":0.44},{"r":3,"c":3,"l":6,"x":0,"a":-0.5,"b":0.5},{"r":3,"c":3,"l":6,"x":0.5,"a":-0.44,"b":0.44},{"r":3,"c":3,"l":6,"x":0.8,"a":-0.27,"b":0.24},{"r":3,"c":3,"l":6,"x":0.88,"a":0,"b":0.02},

{"r":4,"c":3,"l":0,"x":-1,"a":-1,"b":0.5},{"r":4,"c":3,"l":0,"x":-0.85,"a":-0.98,"b":0.68},{"r":4,"c":3,"l":0,"x":-0.5,"a":-0.95,"b":0.82},{"r":4,"c":3,"l":0,"x":0,"a":-0.91,"b":0.91},{"r":4,"c":3,"l":0,"x":0.5,"a":-0.82,"b":0.95},{"r":4,"c":3,"l":0,"x":0.85,"a":-0.68,"b":0.98},{"r":4,"c":3,"l":0,"x":1,"a":-0.5,"b":1},
{"r":4,"c":3,"l":10,"x":-1,"a":-1,"b":1},{"r":4,"c":3,"l":10,"x":1,"a":-1,"b":1},
{"r":4,"c":3,"l":11,"x":-1,"a":-0.72,"b":0.5},{"r":4,"c":3,"l":11,"x":-0.85,"a":-0.88,"b":0.65},{"r":4,"c":3,"l":11,"x":-0.5,"a":-0.9,"b":0.77},{"r":4,"c":3,"l":11,"x":0,"a":-0.85,"b":0.85},{"r":4,"c":3,"l":11,"x":0.5,"a":-0.77,"b":0.9},{"r":4,"c":3,"l":11,"x":0.85,"a":-0.6,"b":0.92},{"r":4,"c":3,"l":11,"x":1,"a":-0.48,"b":0.72},
{"r":4,"c":3,"l":6,"x":-0.77,"a":-0.71,"b":-0.68},{"r":4,"c":3,"l":6,"x":-0.64,"a":-0.6,"b":-0.05},{"r":4,"c":3,"l":6,"x":-0.45,"a":-0.55,"b":0.17},{"r":4,"c":3,"l":6,"x":-0.06,"a":-0.37,"b":0.36},{"r":4,"c":3,"l":6,"x":0.27,"a":-0.29,"b":0.47},{"r":4,"c":3,"l":6,"x":0.66,"a":0.07,"b":0.6},{"r":4,"c":3,"l":6,"x":0.7,"a":0.4,"b":0.63},{"r":4,"c":3,"l":6,"x":0.77,"a":0.66,"b":0.69},

{"r":5,"c":3,"l":0,"x":-1,"a":-1,"b":0.5},{"r":5,"c":3,"l":0,"x":-0.85,"a":-1,"b":0.67},{"r":5,"c":3,"l":0,"x":-0.5,"a":-0.95,"b":0.82},{"r":5,"c":3,"l":0,"x":0,"a":-0.9,"b":0.9},{"r":5,"c":3,"l":0,"x":0.5,"a":-0.82,"b":0.95},{"r":5,"c":3,"l":0,"x":0.85,"a":-0.67,"b":1},{"r":5,"c":3,"l":0,"x":1,"a":-0.5,"b":1},
{"r":5,"c":3,"l":10,"x":-1,"a":-1,"b":1},{"r":5,"c":3,"l":10,"x":1,"a":-1,"b":1},
{"r":5,"c":3,"l":11,"x":-1,"a":-0.56,"b":0.46},{"r":5,"c":3,"l":11,"x":-0.85,"a":-0.68,"b":0.62},{"r":5,"c":3,"l":11,"x":-0.5,"a":-0.78,"b":0.78},{"r":5,"c":3,"l":11,"x":0,"a":-0.84,"b":0.84},{"r":5,"c":3,"l":11,"x":0.5,"a":-0.76,"b":0.7},{"r":5,"c":3,"l":11,"x":0.85,"a":-0.6,"b":0.6},{"r":5,"c":3,"l":11,"x":1,"a":-0.46,"b":0.58},
{"r":5,"c":3,"l":6,"x":-1,"a":-1,"b":-0.8},{"r":5,"c":3,"l":6,"x":-0.85,"a":-0.85,"b":-0.68},{"r":5,"c":3,"l":6,"x":-0.5,"a":-0.52,"b":-0.2},{"r":5,"c":3,"l":6,"x":0,"a":-0.17,"b":0.17},{"r":5,"c":3,"l":6,"x":0.5,"a":0.2,"b":0.52},{"r":5,"c":3,"l":6,"x":0.85,"a":0.68,"b":0.85},{"r":5,"c":3,"l":6,"x":1,"a":0.8,"b":1},
{"r":5,"c":3,"l":-4,"s":1,"x":-1,"y":-0.98},{"r":5,"c":3,"l":-4,"s":1,"x":-0.4,"y":-0.42},{"r":5,"c":3,"l":-4,"s":2,"x":0.4,"y":0.42},{"r":5,"c":3,"l":-4,"s":2,"x":1,"y":0.97},

{"r":6,"c":3,"l":0,"x":-1,"b":-0.9},{"r":6,"c":3,"l":0,"x":-0.97,"b":-0.7},{"r":6,"c":3,"l":0,"x":-0.94,"b":-0.25},{"r":6,"c":3,"l":0,"x":-0.89,"b":0.2},{"r":6,"c":3,"l":0,"x":-0.81,"b":0.49},{"r":6,"c":3,"l":0,"x":-0.53,"b":1},{"r":6,"c":3,"l":0,"x":1,"b":1},
{"r":6,"c":3,"l":0,"x":-1,"a":-1},{"r":6,"c":3,"l":0,"x":0.54,"a":-1},{"r":6,"c":3,"l":0,"x":0.81,"a":-0.48},{"r":6,"c":3,"l":0,"x":0.91,"a":-0.06},{"r":6,"c":3,"l":0,"x":0.95,"a":0.53},{"r":6,"c":3,"l":0,"x":0.98,"a":0.98},{"r":6,"c":3,"l":0,"x":1,"a":1},
{"r":6,"c":3,"l":8,"x":-1,"a":-1,"b":1},{"r":6,"c":3,"l":8,"x":1,"a":-1,"b":1},
{"r":6,"c":3,"l":7,"x":-0.82,"a":-1,"b":1},{"r":6,"c":3,"l":7,"x":0.82,"a":-1,"b":1},
{"r":6,"c":3,"l":6,"x":-0.46,"a":-1,"b":1},{"r":6,"c":3,"l":6,"x":0.46,"a":-1,"b":1},
{"r":6,"c":3,"l":-5,"s":1,"x":-0.82,"y":-1},{"r":6,"c":3,"l":-5,"s":1,"x":-0.82,"y":0.47},{"r":6,"c":3,"l":-5,"s":2,"x":-0.46,"y":-1},{"r":6,"c":3,"l":-5,"s":2,"x":-0.46,"y":1},{"r":6,"c":3,"l":-5,"s":3,"x":0.46,"y":-1},{"r":6,"c":3,"l":-5,"s":3,"x":0.46,"y":1},{"r":6,"c":3,"l":-5,"s":4,"x":0.82,"y":-0.45},{"r":6,"c":3,"l":-5,"s":4,"x":0.82,"y":1},

{"r":1,"c":1,"l":-3,"x":-0.74,"y":0.53,"t":"135","g":-25},{"r":1,"c":1,"l":-3,"x":0.05,"y":0.77,"t":"90","g":-10},{"r":1,"c":1,"l":-3,"x":0.2,"y":0.61,"t":"45","g":-15},{"r":1,"c":1,"l":-3,"x":0.78,"y":0.37,"t":"45","g":-25},{"r":1,"c":1,"l":-3,"x":-0.76,"y":-0.37,"t":"45","g":-25},{"r":1,"c":1,"l":-3,"x":-0.21,"y":-0.66,"t":"45","g":15},{"r":1,"c":1,"l":-3,"x":-0.07,"y":-0.86,"t":"90","g":-10},{"r":1,"c":1,"l":-3,"x":0.75,"y":-0.53,"t":"135","g":-25},
{"r":2,"c":1,"l":-3,"x":-0.75,"y":0.44,"t":"135","g":-25},{"r":2,"c":1,"l":-3,"x":0.05,"y":0.77,"t":"90","g":-10},{"r":2,"c":1,"l":-3,"x":0.2,"y":0.6,"t":"45","g":-15},{"r":2,"c":1,"l":-3,"x":0.78,"y":0.37,"t":"45","g":-25},{"r":2,"c":1,"l":-3,"x":-0.76,"y":-0.37,"t":"45","g":-25},{"r":2,"c":1,"l":-3,"x":-0.21,"y":-0.64,"t":"45","g":15},{"r":2,"c":1,"l":-3,"x":-0.05,"y":-0.8,"t":"90","g":-10},{"r":2,"c":1,"l":-3,"x":0.75,"y":-0.5,"t":"135","g":-25},
{"r":3,"c":1,"l":-3,"x":-0.76,"y":0.49,"t":"135","g":-30},{"r":3,"c":1,"l":-3,"x":-0.72,"y":0.07,"t":"90","g":-30},{"r":3,"c":1,"l":-3,"x":0.2,"y":0.59,"t":"45","g":-10},{"r":3,"c":1,"l":-3,"x":0.79,"y":0.4,"t":"45","g":-30},{"r":3,"c":1,"l":-3,"x":-0.76,"y":-0.42,"t":"45","g":-30},{"r":3,"c":1,"l":-3,"x":-0.19,"y":-0.64,"t":"45","g":-15},{"r":3,"c":1,"l":-3,"x":0.72,"y":-0.18,"t":"90","g":-30},{"r":3,"c":1,"l":-3,"x":0.8,"y":-0.48,"t":"135","g":-30},
{"r":4,"c":1,"l":-3,"x":-0.75,"y":0.44,"t":"135","g":-25},{"r":4,"c":1,"l":-3,"x":0.05,"y":0.73,"t":"90","g":-10},{"r":4,"c":1,"l":-3,"x":0.2,"y":0.54,"t":"45","g":-15},{"r":4,"c":1,"l":-3,"x":0.78,"y":0.35,"t":"45","g":-25},{"r":4,"c":1,"l":-3,"x":-0.76,"y":-0.37,"t":"45","g":-25},{"r":4,"c":1,"l":-3,"x":-0.21,"y":-0.65,"t":"45","g":15},{"r":4,"c":1,"l":-3,"x":-0.05,"y":-0.79,"t":"90","g":-10},{"r":4,"c":1,"l":-3,"x":0.75,"y":-0.5,"t":"135","g":-25},
{"r":5,"c":1,"l":-3,"x":-0.76,"y":0.47,"t":"135","g":-30},{"r":5,"c":1,"l":-3,"x":-0.75,"y":0.08,"t":"90","g":-30},{"r":5,"c":1,"l":-3,"x":0.03,"y":0.36,"t":"45","g":-5},{"r":5,"c":1,"l":-3,"x":0.81,"y":0.4,"t":"45","g":-30},{"r":5,"c":1,"l":-3,"x":-0.79,"y":-0.45,"t":"45","g":-30},{"r":5,"c":1,"l":-3,"x":-0.04,"y":-0.42,"t":"45","g":-5},{"r":5,"c":1,"l":-3,"x":0.74,"y":-0.12,"t":"90","g":-30},{"r":5,"c":1,"l":-3,"x":0.81,"y":-0.48,"t":"135","g":-30},
{"r":6,"c":1,"l":-3,"x":-0.78,"y":0.04,"t":"135","g":-65},{"r":6,"c":1,"l":-3,"x":-0.74,"y":-0.12,"t":"90","g":-55},{"r":6,"c":1,"l":-3,"x":-0.77,"y":-0.45,"t":"45","g":-30},{"r":6,"c":1,"l":-3,"x":0.18,"y":0.62,"t":"45","g":-15},{"r":6,"c":1,"l":-3,"x":0.78,"y":0.4,"t":"45","g":-50},{"r":6,"c":1,"l":-3,"x":0.74,"y":0.04,"t":"90","g":-65},{"r":6,"c":1,"l":-3,"x":0.81,"y":-0.12,"t":"135","g":-70},{"r":6,"c":1,"l":-3,"x":-0.18,"y":-0.68,"t":"45","g":-15},

{"r":1,"c":2,"l":-3,"x":-0.72,"y":0.2,"t":"0.9","g":-40},{"r":1,"c":2,"l":-3,"x":-0.65,"y":0.01,"t":"0.6","g":-40},{"r":1,"c":2,"l":-3,"x":-0.75,"y":-0.47,"t":"0.3","g":-30},{"r":1,"c":2,"l":-3,"x":0.23,"y":0.53,"t":"0.3","g":-15},{"r":1,"c":2,"l":-3,"x":0.75,"y":0.37,"t":"0.3","g":-35},{"r":1,"c":2,"l":-3,"x":0.66,"y":-0.05,"t":"0.6","g":-40},{"r":1,"c":2,"l":-3,"x":0.74,"y":-0.34,"t":"0.9","g":-40},{"r":1,"c":2,"l":-3,"x":-0.23,"y":-0.6,"t":"0.3","g":-15},
{"r":2,"c":2,"l":-3,"x":-0.74,"y":0.2,"t":"0.9","g":-40},{"r":2,"c":2,"l":-3,"x":-0.71,"y":0.08,"t":"0.6","g":-40},{"r":2,"c":2,"l":-3,"x":0.22,"y":0.52,"t":"0.3","g":-15},{"r":2,"c":2,"l":-3,"x":0.64,"y":-0.17,"t":"0.6","g":-40},{"r":2,"c":2,"l":-3,"x":0.75,"y":-0.23,"t":"0.9","g":-40},{"r":2,"c":2,"l":-3,"x":-0.23,"y":-0.6,"t":"0.3","g":-15},
{"r":3,"c":2,"l":-3,"x":-0.74,"y":0.2,"t":"0.9","g":-40},{"r":3,"c":2,"l":-3,"x":-0.71,"y":0.08,"t":"0.6","g":-40},{"r":3,"c":2,"l":-3,"x":0.22,"y":0.52,"t":"0.3","g":-15},{"r":3,"c":2,"l":-3,"x":0.64,"y":-0.17,"t":"0.6","g":-40},{"r":3,"c":2,"l":-3,"x":0.75,"y":-0.25,"t":"0.9","g":-40},{"r":3,"c":2,"l":-3,"x":-0.23,"y":-0.6,"t":"0.3","g":-15},
{"r":4,"c":2,"l":-3,"x":-0.74,"y":0.2,"t":"0.9","g":-40},{"r":4,"c":2,"l":-3,"x":-0.71,"y":0.08,"t":"0.6","g":-40},{"r":4,"c":2,"l":-3,"x":-0.75,"y":-0.47,"t":"0.3","g":-30},{"r":4,"c":2,"l":-3,"x":0.23,"y":0.5,"t":"0.3","g":-15},{"r":4,"c":2,"l":-3,"x":0.75,"y":0.37,"t":"0.3","g":-35},{"r":4,"c":2,"l":-3,"x":0.64,"y":-0.1,"t":"0.6","g":-40},{"r":4,"c":2,"l":-3,"x":0.74,"y":-0.3,"t":"0.9","g":-40},{"r":4,"c":2,"l":-3,"x":-0.23,"y":-0.6,"t":"0.3","g":-15},
{"r":5,"c":2,"l":-3,"x":-0.25,"y":0.49,"t":"0.6","g":-15},{"r":5,"c":2,"l":-3,"x":0.18,"y":0.36,"t":"0.3","g":-15},{"r":5,"c":2,"l":-3,"x":0.65,"y":0.36,"t":"0.3","g":-20},{"r":5,"c":2,"l":-3,"x":0.93,"y":0.46,"t":"0.6","g":-50},{"r":5,"c":2,"l":-3,"x":-0.8,"y":0.17,"t":"0.9","g":-25},{"r":5,"c":2,"l":-3,"x":-0.87,"y":-0.25,"t":"0.6","g":-60},{"r":5,"c":2,"l":-3,"x":-0.67,"y":-0.45,"t":"0.3","g":-25},{"r":5,"c":2,"l":-3,"x":-0.96,"y":-0.58,"t":"0.6","g":-50},{"r":5,"c":2,"l":-3,"x":-0.17,"y":-0.45,"t":"0.3","g":-20},{"r":5,"c":2,"l":-3,"x":0.22,"y":-0.53,"t":"0.6","g":-15},{"r":5,"c":2,"l":-3,"x":0.8,"y":-0.29,"t":"0.9","g":-35},
{"r":6,"c":2,"l":-3,"x":-0.68,"y":0.25,"t":"0.9","g":-45},{"r":6,"c":2,"l":-3,"x":-0.68,"y":0.02,"t":"0.6","g":-45},{"r":6,"c":2,"l":-3,"x":0.23,"y":0.58,"t":"0.3","g":-15},{"r":6,"c":2,"l":-3,"x":0.66,"y":-0.05,"t":"0.6","g":-45},{"r":6,"c":2,"l":-3,"x":0.72,"y":-0.22,"t":"0.9","g":-45},{"r":6,"c":2,"l":-3,"x":-0.22,"y":-0.62,"t":"0.3","g":-15},

{"r":1,"c":3,"l":-3,"x":-0.45,"y":0.72,"t":"0.12","g":-5},{"r":1,"c":3,"l":-3,"x":0.6,"y":0.8,"t":"0.12","g":0},{"r":1,"c":3,"l":-3,"x":0.09,"y":0.43,"t":"0.15","g":0},{"r":1,"c":3,"l":-3,"x":-0.36,"y":-0.5,"t":"0.15","g":5},{"r":1,"c":3,"l":-3,"x":0.7,"y":-0.31,"t":"0.15","g":-25},{"r":1,"c":3,"l":-3,"x":-0.63,"y":-0.86,"t":"0.12","g":5},{"r":1,"c":3,"l":-3,"x":0.44,"y":-0.81,"t":"0.12","g":-5},
{"r":2,"c":3,"l":-3,"x":-0.45,"y":0.69,"t":"0.12","g":-5},{"r":2,"c":3,"l":-3,"x":0.61,"y":0.79,"t":"0.12","g":0},{"r":2,"c":3,"l":-3,"x":0.09,"y":0.46,"t":"0.15","g":0},{"r":2,"c":3,"l":-3,"x":-0.36,"y":-0.5,"t":"0.15","g":5},{"r":2,"c":3,"l":-3,"x":0.7,"y":-0.29,"t":"0.15","g":-25},{"r":2,"c":3,"l":-3,"x":-0.63,"y":-0.85,"t":"0.12","g":5},{"r":2,"c":3,"l":-3,"x":0.44,"y":-0.79,"t":"0.12","g":-5},
{"r":3,"c":3,"l":-3,"x":-0.45,"y":0.69,"t":"0.12","g":-5},{"r":3,"c":3,"l":-3,"x":0.61,"y":0.79,"t":"0.12","g":0},{"r":3,"c":3,"l":-3,"x":0.15,"y":0.42,"t":"0.15","g":0},{"r":3,"c":3,"l":-3,"x":-0.37,"y":-0.46,"t":"0.15","g":5},{"r":3,"c":3,"l":-3,"x":0.68,"y":-0.29,"t":"0.15","g":-25},{"r":3,"c":3,"l":-3,"x":-0.63,"y":-0.87,"t":"0.12","g":5},{"r":3,"c":3,"l":-3,"x":0.44,"y":-0.81,"t":"0.12","g":-5},
{"r":4,"c":3,"l":-3,"x":-0.4,"y":0.73,"t":"0.12","g":-3},{"r":4,"c":3,"l":-3,"x":0.65,"y":0.84,"t":"0.12","g":5},{"r":4,"c":3,"l":-3,"x":-0.27,"y":0.3,"t":"0.15","g":-10},{"r":4,"c":3,"l":-3,"x":0.52,"y":0.53,"t":"0.15","g":5},{"r":4,"c":3,"l":-3,"x":0.45,"y":-0.22,"t":"0.15","g":-15},{"r":4,"c":3,"l":-3,"x":-0.46,"y":-0.58,"t":"0.15","g":5},{"r":4,"c":3,"l":-3,"x":-0.67,"y":-0.9,"t":"0.12","g":-5},{"r":4,"c":3,"l":-3,"x":0.38,"y":-0.77,"t":"0.12","g":-5},
{"r":5,"c":3,"l":-3,"x":-0.39,"y":0.72,"t":"0.12","g":0},{"r":5,"c":3,"l":-3,"x":0.37,"y":-0.79,"t":"0.12","g":0},{"r":5,"c":3,"l":-3,"x":0.49,"y":0.59,"t":"0.15","g":-20},{"r":5,"c":3,"l":-3,"x":0.48,"y":0.3,"t":"0.15","g":-20},{"r":5,"c":3,"l":-3,"x":-0.49,"y":-0.29,"t":"0.15","g":-25},{"r":5,"c":3,"l":-3,"x":-0.5,"y":-0.61,"t":"0.15","g":-20},
{"r":6,"c":3,"l":-3,"x":-0.44,"y":0.27,"t":"0.15","g":-90},{"r":6,"c":3,"l":-3,"x":-0.81,"y":-0.1,"t":"0.12","g":-90},{"r":6,"c":3,"l":-3,"x":0.43,"y":-0.27,"t":"0.15","g":90},{"r":6,"c":3,"l":-3,"x":0.8,"y":0.12,"t":"0.12","g":90}
]},
"vconcat":[
{"vconcat":[
{"hconcat":[
{"width":107,"height":51,"data":{"values":[{"t":"Model"}]},"mark":{"type":"text","fontWeight":"bold","font":"Liberation Serif","fontSize":21},"encoding":{"text":{"field":"t"},"x":{"datum":0.5,"scale":{"domain":[0,1]},"axis":null},"y":{"datum":0.5,"scale":{"domain":[0,1]},"axis":null}}},
{"width":159,"height":51,"data":{"values":[{"t":"Slip Prediction\nAgreement"}]},"mark":{"type":"text","fontWeight":"bold","font":"Liberation Serif","fontSize":21,"lineBreak":"\n","lineHeight":25},"encoding":{"text":{"field":"t"},"x":{"datum":0.5,"scale":{"domain":[0,1]},"axis":null},"y":{"datum":0.72,"scale":{"domain":[0,1]},"axis":null}}},
{"width":372,"height":51,"data":{"values":[{"t":"Torque Angle Oscillation (deg)"}]},"mark":{"type":"text","fontWeight":"bold","font":"Liberation Serif","fontSize":21},"encoding":{"text":{"field":"t"},"x":{"datum":0.5,"scale":{"domain":[0,1]},"axis":null},"y":{"datum":0.5,"scale":{"domain":[0,1]},"axis":null}}},
{"width":372,"height":51,"data":{"values":[{"t":"Maximum Angular Velocity (pu)"}]},"mark":{"type":"text","fontWeight":"bold","font":"Liberation Serif","fontSize":21},"encoding":{"text":{"field":"t"},"x":{"datum":0.5,"scale":{"domain":[0,1]},"axis":null},"y":{"datum":0.5,"scale":{"domain":[0,1]},"axis":null}}},
{"width":372,"height":51,"data":{"values":[{"t":"Oscillation Frequency (pu)"}]},"mark":{"type":"text","fontWeight":"bold","font":"Liberation Serif","fontSize":21},"encoding":{"text":{"field":"t"},"x":{"datum":0.5,"scale":{"domain":[0,1]},"axis":null},"y":{"datum":0.5,"scale":{"domain":[0,1]},"axis":null}}}
],"spacing":-3},
{"hconcat":[
{"width":107,"height":188,"data":{"values":[{"t":"Proposed"}]},"mark":{"type":"text","align":"left","fontWeight":"bold","font":"Liberation Serif","fontSize":21},"encoding":{"text":{"field":"t"},"x":{"datum":0.055,"scale":{"domain":[0,1]},"axis":null},"y":{"datum":0.49,"scale":{"domain":[0,1]},"axis":null}}},
{"width":159,"height":188,"data":{"values":[{"t":"N/A"}]},"mark":{"type":"text","font":"Liberation Serif","fontSize":21},"encoding":{"text":{"field":"t"},"x":{"datum":0.5,"scale":{"domain":[0,1]},"axis":null},"y":{"datum":0.49,"scale":{"domain":[0,1]},"axis":null}}},
{"data":{"name":"d"},"transform":[{"filter":"datum.r==1"}],"facet":{"column":{"field":"c","type":"ordinal","header":null}},"spacing":-3.5,"resolve":{"axis":{"x":"independent","y":"independent"}},
"spec":{"width":372,"height":188,"encoding":{"x":{"field":"x","type":"quantitative","scale":{"domain":[-1.996,1.091]},"axis":{"values":[-1,-0.5,0,0.5,1],"labelExpr":"''+datum.value","domain":false,"ticks":false,"grid":false,"labelFont":"Liberation Sans","labelFontSize":21.5,"labelColor":"#404040","labelPadding":14,"labelOverlap":false,"labelFlush":false,"offset":-76,"title":"Initial Torque (pu)","titleFont":"Liberation Sans","titleFontSize":24,"titleFontWeight":"normal","titleColor":"#404040","titleX":237,"titleY":47}}},
"layer":[
{"transform":[{"filter":"datum.l>0"}],"mark":{"type":"area","interpolate":"monotone"},"encoding":{"y":{"field":"a","type":"quantitative","scale":{"domain":[-2.462,1.154]},"axis":{"values":[-1,-0.5,0,0.5,1],"labelExpr":"''+datum.value","domain":false,"ticks":false,"grid":false,"labelFont":"Liberation Sans","labelFontSize":21.5,"labelColor":"#404040","labelPadding":10,"labelOverlap":false,"labelFlush":false,"offset":-120,"title":["HSR","Torque (pu)"],"titleFont":"Liberation Sans","titleFontSize":24,"titleFontWeight":"normal","titleColor":"#404040","titleX":-88,"titleY":62,"titleAlign":"center","titleLineHeight":32}},"y2":{"field":"b"},"color":{"field":"l","type":"nominal","legend":null,"scale":{"domain":[1,2,3,4,5,6,7,8,9,10,11],"range":["#d6b85c","#4fb58c","#0ba6c7","#0a6fdc","#352a87","#f9fb0e","#d9b550","#38b59a","#1283d4","#7cc07c","#f0b445"]}}}},
{"transform":[{"filter":"datum.l>0&&datum.b<0.995"}],"mark":{"type":"line","interpolate":"monotone","color":"#000","strokeWidth":1.2},"encoding":{"y":{"field":"b","type":"quantitative","scale":{"domain":[-2.462,1.154]}},"detail":{"field":"l"}}},
{"transform":[{"filter":"datum.l>0&&datum.a>-0.995"}],"mark":{"type":"line","interpolate":"monotone","color":"#000","strokeWidth":1.2},"encoding":{"y":{"field":"a","type":"quantitative","scale":{"domain":[-2.462,1.154]}},"detail":{"field":"l"}}},
{"transform":[{"filter":"datum.l==0&&isValid(datum.b)"}],"mark":{"type":"area","interpolate":"monotone","color":"#ff0000"},"encoding":{"y":{"field":"b","type":"quantitative","scale":{"domain":[-2.462,1.154]}},"y2":{"datum":1}}},
{"transform":[{"filter":"datum.l==0&&isValid(datum.a)"}],"mark":{"type":"area","interpolate":"monotone","color":"#ff0000"},"encoding":{"y":{"field":"a","type":"quantitative","scale":{"domain":[-2.462,1.154]}},"y2":{"datum":-1}}},
{"transform":[{"filter":"datum.l==-1"}],"mark":{"type":"rect","fill":null,"stroke":"#808080","strokeWidth":1},"encoding":{"x":{"field":"u","type":"quantitative"},"x2":{"field":"v"},"y":{"field":"u","type":"quantitative","scale":{"domain":[-2.462,1.154]}},"y2":{"field":"v"}}},
{"transform":[{"filter":"datum.l==-3"}],"mark":{"type":"text","font":"Liberation Sans","fontSize":21,"color":"#111"},"encoding":{"y":{"field":"y","type":"quantitative","scale":{"domain":[-2.462,1.154]}},"text":{"field":"t"},"angle":{"field":"g","type":"quantitative","scale":null}}}
]}}
],"spacing":-2.5}
],"spacing":-4},
{"hconcat":[
{"data":{"values":[{"r":2,"t":"Simulink"},{"r":3,"t":"FEA 1"},{"r":4,"t":"FEA 2"},{"r":5,"t":"FEA 3"},{"r":6,"t":"Linearized"}]},"facet":{"row":{"field":"r","type":"ordinal","header":null}},"spacing":-4,"spec":{"width":107,"height":214,"mark":{"type":"text","align":"left","fontWeight":"bold","font":"Liberation Serif","fontSize":21},"encoding":{"text":{"field":"t"},"x":{"datum":0.055,"scale":{"domain":[0,1]},"axis":null},"y":{"datum":0.493,"scale":{"domain":[0,1]},"axis":null}}}},
{"data":{"values":[{"r":2,"t":"100.0%"},{"r":3,"t":"100.0%"},{"r":4,"t":"98.8%"},{"r":5,"t":"98.6%"},{"r":6,"t":"86.6%"}]},"facet":{"row":{"field":"r","type":"ordinal","header":null}},"spacing":-4,"spec":{"width":159,"height":214,"mark":{"type":"text","font":"Liberation Serif","fontSize":21},"encoding":{"text":{"field":"t"},"x":{"datum":0.5,"scale":{"domain":[0,1]},"axis":null},"y":{"datum":0.493,"scale":{"domain":[0,1]},"axis":null}}}},
{"data":{"name":"d"},"transform":[{"filter":"datum.r>1"}],"facet":{"row":{"field":"r","type":"ordinal","header":null},"column":{"field":"c","type":"ordinal","header":null}},"spacing":{"row":-6,"column":-4},"resolve":{"axis":{"x":"independent","y":"independent"}},
"spec":{"width":371,"height":214,"encoding":{"x":{"field":"x","type":"quantitative","scale":{"domain":[-1.996,1.083]},"axis":{"values":[-1,-0.5,0,0.5,1],"labelExpr":"''+datum.value","domain":false,"ticks":false,"grid":false,"labelFont":"Liberation Sans","labelFontSize":21.5,"labelColor":"#404040","labelPadding":14,"labelOverlap":false,"labelFlush":false,"offset":-102,"title":"Initial Torque (pu)","titleFont":"Liberation Sans","titleFontSize":24,"titleFontWeight":"normal","titleColor":"#404040","titleX":237,"titleY":47}}},
"layer":[
{"transform":[{"filter":"datum.l>0"}],"mark":{"type":"area","interpolate":"monotone"},"encoding":{"y":{"field":"a","type":"quantitative","scale":{"domain":[-2.9615,1.154]},"axis":{"values":[-1,-0.5,0,0.5,1],"labelExpr":"''+datum.value","domain":false,"ticks":false,"grid":false,"labelFont":"Liberation Sans","labelFontSize":21.5,"labelColor":"#404040","labelPadding":10,"labelOverlap":false,"labelFlush":false,"offset":-120,"title":["HSR","Torque (pu)"],"titleFont":"Liberation Sans","titleFontSize":24,"titleFontWeight":"normal","titleColor":"#404040","titleX":-88,"titleY":62,"titleAlign":"center","titleLineHeight":32}},"y2":{"field":"b"},"color":{"field":"l","type":"nominal","legend":null,"scale":{"domain":[1,2,3,4,5,6,7,8,9,10,11],"range":["#d6b85c","#4fb58c","#0ba6c7","#0a6fdc","#352a87","#f9fb0e","#d9b550","#38b59a","#1283d4","#7cc07c","#f0b445"]}}}},
{"transform":[{"filter":"datum.l>0&&datum.b<0.995"}],"mark":{"type":"line","interpolate":"monotone","color":"#000","strokeWidth":1.2},"encoding":{"y":{"field":"b","type":"quantitative","scale":{"domain":[-2.9615,1.154]}},"detail":{"field":"l"}}},
{"transform":[{"filter":"datum.l>0&&datum.a>-0.995"}],"mark":{"type":"line","interpolate":"monotone","color":"#000","strokeWidth":1.2},"encoding":{"y":{"field":"a","type":"quantitative","scale":{"domain":[-2.9615,1.154]}},"detail":{"field":"l"}}},
{"transform":[{"filter":"datum.l==-5"}],"mark":{"type":"line","color":"#000","strokeWidth":1.2},"encoding":{"y":{"field":"y","type":"quantitative","scale":{"domain":[-2.9615,1.154]}},"detail":{"field":"s"}}},
{"transform":[{"filter":"datum.l==-4"}],"mark":{"type":"line","color":"#000","strokeWidth":1.2,"strokeDash":[1.5,3]},"encoding":{"y":{"field":"y","type":"quantitative","scale":{"domain":[-2.9615,1.154]}},"detail":{"field":"s"}}},
{"transform":[{"filter":"datum.l==0&&isValid(datum.b)"}],"mark":{"type":"area","interpolate":"monotone","color":"#ff0000"},"encoding":{"y":{"field":"b","type":"quantitative","scale":{"domain":[-2.9615,1.154]}},"y2":{"datum":1}}},
{"transform":[{"filter":"datum.l==0&&isValid(datum.a)"}],"mark":{"type":"area","interpolate":"monotone","color":"#ff0000"},"encoding":{"y":{"field":"a","type":"quantitative","scale":{"domain":[-2.9615,1.154]}},"y2":{"datum":-1}}},
{"transform":[{"filter":"datum.l==-1"}],"mark":{"type":"rect","fill":null,"stroke":"#808080","strokeWidth":1},"encoding":{"x":{"field":"u","type":"quantitative"},"x2":{"field":"v"},"y":{"field":"u","type":"quantitative","scale":{"domain":[-2.9615,1.154]}},"y2":{"field":"v"}}},
{"transform":[{"filter":"datum.l==-3&&abs(datum.g)!=90"}],"mark":{"type":"text","font":"Liberation Sans","fontSize":21,"color":"#111"},"encoding":{"y":{"field":"y","type":"quantitative","scale":{"domain":[-2.9615,1.154]}},"text":{"field":"t"},"angle":{"field":"g","type":"quantitative","scale":null}}},
{"transform":[{"filter":"datum.l==-3&&abs(datum.g)==90"}],"mark":{"type":"text","font":"Liberation Sans","fontSize":16,"color":"#111"},"encoding":{"y":{"field":"y","type":"quantitative","scale":{"domain":[-2.9615,1.154]}},"text":{"field":"t"},"angle":{"field":"g","type":"quantitative","scale":null}}},
{"transform":[{"filter":"datum.l==-1"}],"mark":{"type":"text","font":"Liberation Serif","fontSize":21,"color":"#000"},"encoding":{"y":{"field":"y","type":"quantitative","scale":{"domain":[-2.9615,1.154]}},"text":{"field":"t"}}},
{"transform":[{"filter":"datum.l==-1"}],"mark":{"type":"rule","color":"#000","strokeWidth":1,"strokeDash":[1,1.5]},"encoding":{"x":null,"y":{"field":"q","type":"quantitative","scale":{"domain":[-2.9615,1.154]}}}}
]}}
],"spacing":-2.5}
],"spacing":-7}
